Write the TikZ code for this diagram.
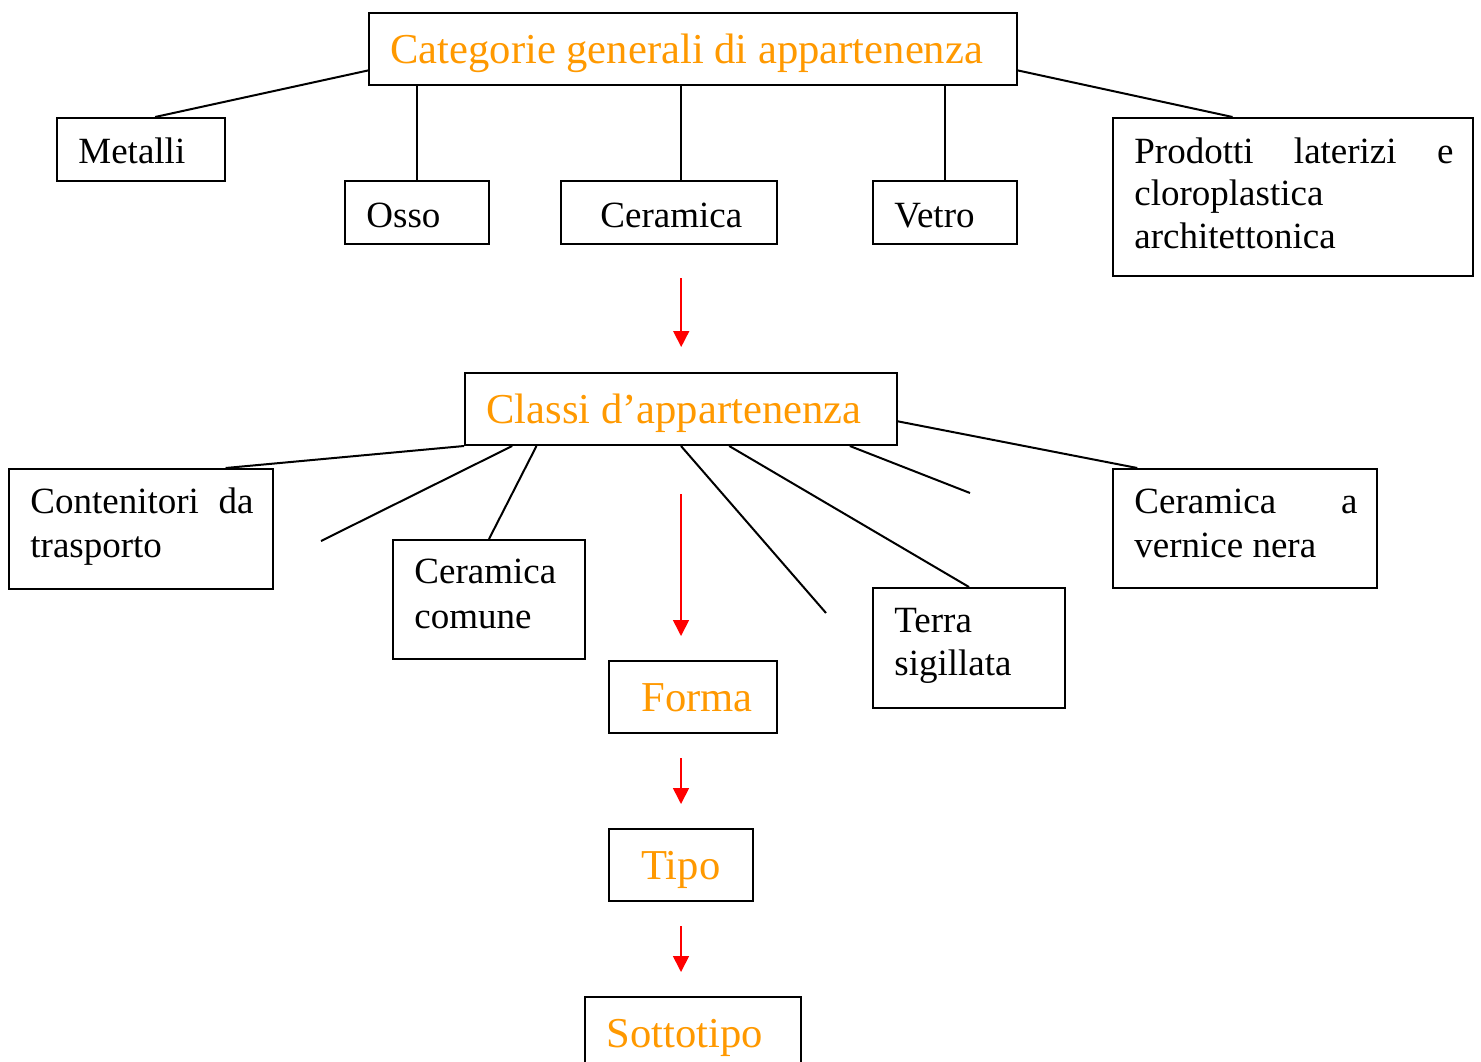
\documentclass[tikz,border=0pt]{standalone}
\usepackage{fontspec}
\setmainfont{Liberation Serif}
\usetikzlibrary{fit,calc,arrows.meta}
\definecolor{orng}{RGB}{255,153,0}
\definecolor{redarr}{RGB}{255,0,0}
\begin{document}
\begin{tikzpicture}[x=0.5pt,y=-0.5pt,
  box/.style={draw=black,line width=1pt,inner sep=0pt,fill=none},
  txt/.style={inner sep=0pt,anchor=base west,font=\fontsize{18.5}{21}\selectfont},
  otxt/.style={inner sep=0pt,anchor=base west,text=orng,font=\fontsize{21.3}{25}\selectfont},
  conn/.style={draw=black,line width=1pt},
  redarrow/.style={draw=redarr,line width=0.8pt,-{Triangle[length=8pt,width=8pt]}}]
\clip (0,0) rectangle (1481,1061);
\fill[white] (0,0) rectangle (1481,1061);
% top level
\node[box,fit={(369,13) (1017,85)}] (cat) {};
\node[otxt] (cattxt) at (390,63) {Categorie generali di appartenenza};
\node[box,fit={(57,118) (225,181)}] (met) {};
\node[txt] (mettxt) at (78,163) {Metalli};
\node[box,fit={(345,181) (489,244)}] (osso) {};
\node[txt] (ossotxt) at (366,227) {Osso};
\node[box,fit={(561,181) (777,244)}] (cer) {};
\node[txt] (certxt) at (600,227) {Ceramica};
\node[box,fit={(873,181) (1017,244)}] (vet) {};
\node[txt] (vettxt) at (894,227) {Vetro};
\node[box,fit={(1113,118) (1473,276)}] (prod) {};
\node[txt] (prod1) at (1134,163) {\makebox[159.5pt][s]{Prodotti laterizi e}};
\node[txt] (prod2) at (1134,205.5) {cloroplastica};
\node[txt] (prod3) at (1134,248) {architettonica};
% connectors top
\draw[conn] ($(cat.north west)!0.79!(cat.south west)$) -- ($(met.north west)!0.583!(met.north east)$);
\draw[conn] (osso.north |- cat.south) -- (osso.north);
\draw[conn] ($(cer.north west)!0.556!(cer.north east)$) coordinate (cerx) -- (cerx |- cat.south);
\draw[conn] (vet.north |- cat.south) -- (vet.north);
\draw[conn] ($(cat.north east)!0.79!(cat.south east)$) -- ($(prod.north west)!0.333!(prod.north east)$);
% second level
\node[box,fit={(465,373) (897,445)}] (cla) {};
\node[otxt] (clatxt) at (486,423) {Classi d’appartenenza};
\draw[redarrow,shorten <=16.5pt,shorten >=12.5pt] (cerx |- cer.south) -- (cerx |- cla.north);
\node[box,fit={(9,469) (273,589)}] (cont) {};
\node[txt] (cont1) at (30,513) {\makebox[111.5pt][s]{Contenitori da}};
\node[txt] (cont2) at (30,557) {trasporto};
\node[box,fit={(393,540) (585,659)}] (cc) {};
\node[txt] (cc1) at (414,583) {Ceramica};
\node[txt] (cc2) at (414,628) {comune};
\node[box,fit={(873,588) (1065,708)}] (ts) {};
\node[txt] (ts1) at (894,632) {Terra};
\node[txt] (ts2) at (894,675) {sigillata};
\node[box,fit={(1113,469) (1377,588)}] (cv) {};
\node[txt] (cv1) at (1134,513) {\makebox[111.5pt][s]{Ceramica a}};
\node[txt] (cv2) at (1134,557) {vernice nera};
\coordinate (free1) at (321,541);
\coordinate (free2) at (826,613);
\coordinate (free3) at (970,493);
\draw[conn] (cla.south west) -- ($(cont.north west)!0.818!(cont.north east)$);
\draw[conn] ($(cla.south west)!0.111!(cla.south east)$) -- (free1);
\draw[conn] ($(cla.south west)!0.167!(cla.south east)$) -- (cc.north);
\draw[conn] (cla.south) -- (free2);
\draw[conn] ($(cla.south west)!0.611!(cla.south east)$) -- (ts.north);
\draw[conn] ($(cla.south west)!0.889!(cla.south east)$) -- (free3);
\draw[conn] ($(cla.north east)!0.667!(cla.south east)$) -- ($(cv.north west)!0.095!(cv.north east)$);
% chain
\node[box,fit={(609,661) (777,733)}] (forma) {};
\node[otxt] (formatxt) at (641,711) {Forma};
\node[box,fit={(609,829) (753,901)}] (tipo) {};
\node[otxt] (tipotxt) at (641,879) {Tipo};
\node[box,fit={(585,997) (801,1080)}] (sotto) {};
\node[otxt] (sottotxt) at (606,1047) {Sottotipo};
\draw[redarrow,shorten <=24pt,shorten >=12pt] (cla.south) -- (cla.south |- forma.north);
\draw[redarrow,shorten <=12pt,shorten >=12pt] (tipo.north |- forma.south) -- (tipo.north);
\draw[redarrow,shorten <=12pt,shorten >=12pt] (tipo.south) -- (tipo.south |- sotto.north);
\end{tikzpicture}
\end{document}
